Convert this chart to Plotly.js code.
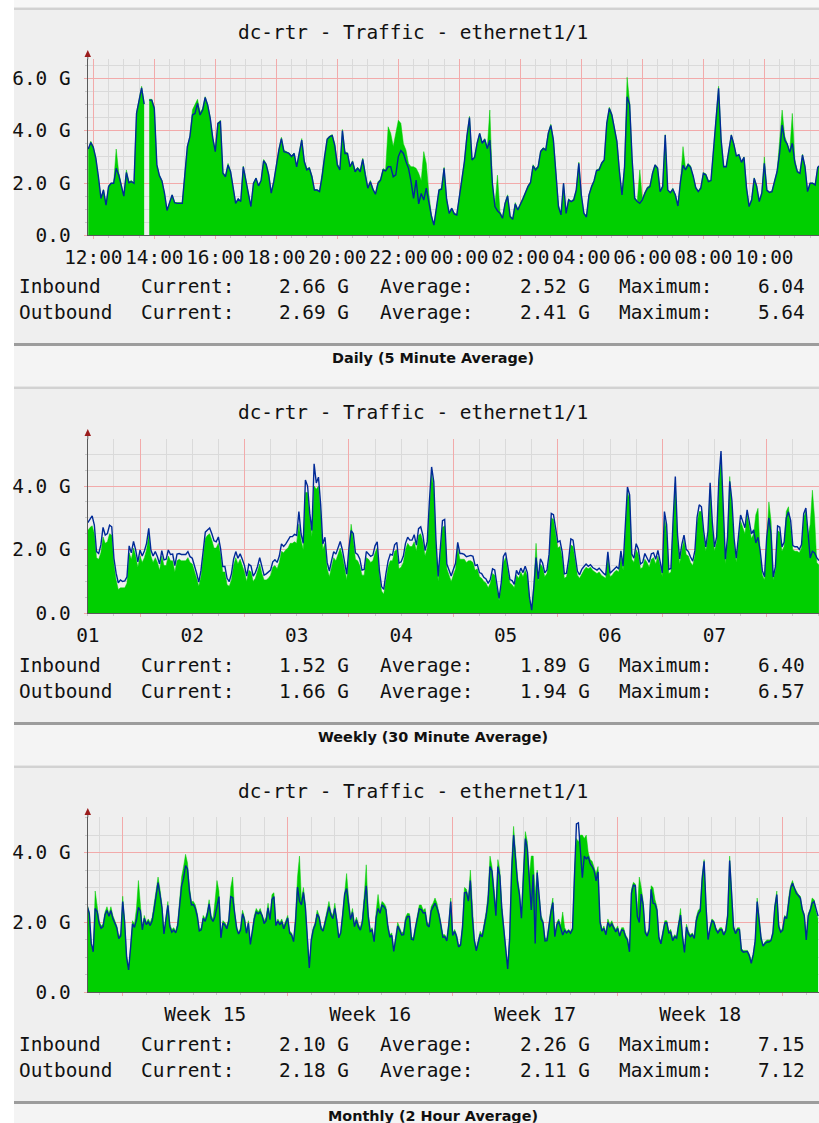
<!DOCTYPE html>
<html><head><meta charset="utf-8">
<script src="https://cdn.plot.ly/plotly-3.0.1.min.js"></script>
<style>html,body{margin:0;padding:0;background:#fff;overflow:hidden}#chart{width:819px;height:1123px}</style>
</head><body><div id="chart"></div>
<script>
// ---------------- DATA ----------------
const chartTitle = "dc-rtr - Traffic - ethernet1/1";
const panelCaptions = ["Daily (5 Minute Average)", "Weekly (30 Minute Average)", "Monthly (2 Hour Average)"];

// Daily: 5-minute samples starting 2018-05-07 11:50 (G bits/s); null = unknown sample
const dailyStart = "2018-05-07 11:50:00";
const dailyStepMin = 5;
const dailyIn = [3.25,3.6,3.4,2.95,2.2,1.4,1.75,1.2,1.9,2.0,
2.0,3.3,2.4,1.9,1.5,2.5,2.05,2.1,2.0,4.7,
5.2,5.7,5.05,null,5.2,5.2,4.9,2.7,2.3,2.1,
1.6,0.95,1.25,1.55,1.25,1.25,1.25,1.25,2.35,3.4,
3.8,4.8,5.0,5.2,4.7,4.85,5.3,5.0,4.5,3.75,
3.25,4.3,4.4,2.4,2.3,2.75,2.45,1.9,1.25,1.4,
1.3,2.65,2.15,1.65,1.1,2.0,2.2,1.9,2.1,2.9,
2.75,2.35,1.65,2.1,2.75,3.3,3.75,3.25,3.2,3.15,
3.05,3.15,2.65,3.15,3.7,2.85,2.55,2.6,2.3,1.75,
1.75,1.7,2.3,3.05,3.7,3.8,3.85,3.5,2.75,2.55,
4.05,3.2,3.15,2.65,2.85,2.5,2.6,2.5,2.95,2.35,
1.85,2.1,1.8,1.6,2.05,2.15,2.55,2.5,4.15,3.9,
3.4,3.9,4.4,4.28,3.5,3.26,2.75,2.62,2.62,2.56,
2.37,2.1,3.2,2.75,1.6,0.8,0.4,1.05,1.75,1.8,
2.6,1.4,0.85,1.05,0.85,0.8,1.5,2.35,2.85,3.85,
4.55,2.9,3.0,3.55,3.9,3.55,3.7,3.35,4.79,2.0,
1.15,2.3,0.9,0.7,1.25,1.55,0.75,0.65,1.25,1.0,
1.2,1.4,1.65,1.9,2.05,2.7,2.55,2.65,3.25,3.35,
3.3,3.95,4.25,3.7,2.4,1.15,0.8,2.0,0.85,1.4,
1.3,1.4,1.75,2.8,1.55,0.85,0.75,1.55,1.9,2.1,
2.5,2.55,2.8,2.9,4.3,4.9,4.65,4.1,3.6,2.45,
1.55,2.65,6.04,5.1,2.9,1.45,1.3,2.5,1.4,1.65,
1.85,1.9,2.4,2.7,2.6,1.7,1.9,3.85,1.75,1.65,
1.8,1.55,1.15,2.1,3.39,2.55,2.75,2.65,2.3,1.85,
1.7,1.85,2.4,2.35,2.1,2.1,3.25,4.5,5.7,3.7,
2.65,2.65,3.25,3.85,3.5,3.05,3.1,2.8,3.0,1.85,
1.15,1.4,2.2,1.9,1.3,1.65,3.0,1.75,1.65,1.7,
2.1,2.45,3.6,4.79,3.8,3.5,3.2,4.66,2.9,2.45,
2.4,3.1,2.65,1.7,2.0,2.0,1.95,2.6,2.66];
const dailyOut = [3.3,3.55,3.36,2.94,2.24,1.41,1.73,1.15,1.86,1.99,
1.99,2.56,2.31,1.86,1.5,2.4,2.01,2.05,1.99,4.66,
5.17,5.64,5.02,null,5.17,5.17,4.85,2.69,2.28,2.08,
1.61,0.95,1.25,1.54,1.25,1.22,1.22,1.22,2.31,3.39,
3.77,4.6,4.66,5.04,4.6,4.79,5.27,4.98,4.47,3.71,
3.2,4.28,4.34,2.37,2.24,2.69,2.43,1.89,1.22,1.39,
1.29,2.62,2.11,1.61,1.1,1.98,2.18,1.89,2.09,2.85,
2.71,2.31,1.61,2.05,2.73,3.26,3.7,3.2,3.17,3.13,
3.01,3.13,2.62,3.13,3.64,2.82,2.5,2.56,2.24,1.73,
1.73,1.67,2.24,3.01,3.67,3.77,3.81,3.43,2.69,2.5,
4.0,3.13,3.13,2.62,2.82,2.43,2.56,2.43,2.9,2.31,
1.8,2.05,1.76,1.57,1.99,2.11,2.5,2.46,2.62,2.62,
2.24,2.31,3.01,3.24,3.13,2.82,2.56,2.05,1.41,2.11,
1.2,1.6,1.35,1.8,1.29,0.74,0.39,1.03,1.73,1.76,
2.56,1.38,0.84,1.03,0.82,0.78,1.48,2.31,2.82,3.8,
4.5,2.88,2.98,3.52,3.9,3.52,3.67,3.32,3.64,1.99,
1.1,0.94,0.84,0.65,1.22,1.5,0.71,0.61,1.2,0.97,
1.16,1.39,1.63,1.86,2.01,2.66,2.5,2.62,3.2,3.32,
3.26,3.9,4.2,3.64,2.37,1.1,0.78,1.99,0.84,1.35,
1.29,1.35,1.73,2.75,1.54,0.84,0.7,1.54,1.85,2.08,
2.48,2.5,2.75,2.88,4.28,4.85,4.6,4.08,3.58,2.43,
1.54,2.62,5.3,5.0,2.88,1.41,1.29,1.22,1.35,1.61,
1.8,1.86,2.37,2.69,2.56,1.67,1.86,3.83,1.73,1.63,
1.76,1.54,1.12,2.05,2.68,2.5,2.7,2.6,2.27,1.82,
1.67,1.8,2.37,2.31,2.05,2.09,3.2,4.47,5.62,3.64,
2.62,2.62,3.2,3.83,3.48,3.03,3.08,2.79,2.98,1.8,
1.1,1.35,2.18,1.86,1.29,1.61,2.75,1.72,1.64,1.67,
2.05,2.43,3.13,4.22,3.64,3.49,3.17,3.52,2.78,2.43,
2.37,3.07,2.62,1.67,1.99,1.99,1.92,2.6,2.69];

// Weekly: 30-minute samples starting 2018-05-01 12:00
const weeklyStart = "2018-05-01 12:00:00";
const weeklyStepMin = 30;
const weeklyIn = [2.6,2.7,2.75,2.5,1.75,1.7,1.9,2.4,2.2,2.25,
2.5,2.45,1.55,1.05,0.75,0.8,0.8,0.8,0.95,1.9,
1.7,2.05,1.8,1.45,1.8,1.6,1.75,2.0,2.45,1.8,
1.6,1.75,1.6,1.35,1.8,1.5,1.5,1.8,1.65,1.65,
1.3,1.65,1.7,1.65,1.65,1.65,1.75,1.6,1.55,1.35,
1.1,0.85,1.15,1.75,2.35,2.45,2.5,2.3,2.05,2.05,
2.2,1.85,1.3,1.3,0.9,0.85,1.05,1.5,1.75,1.55,
1.7,1.5,1.3,1.0,1.35,1.3,1.0,1.1,1.3,1.55,
1.25,1.05,1.05,1.1,1.2,1.45,1.5,1.4,1.6,1.95,
1.9,2.0,2.05,2.2,2.2,2.25,2.2,2.8,2.3,2.0,
3.8,3.8,3.0,2.4,4.0,3.9,4.0,3.2,2.0,2.2,
1.4,1.15,1.45,1.75,1.65,1.85,2.05,1.8,1.35,1.05,
1.85,2.8,2.3,1.7,1.65,1.5,1.2,1.2,1.75,1.7,
1.6,1.65,1.9,2.05,1.2,0.7,0.6,1.05,1.45,1.65,
1.65,1.95,2.0,1.4,1.45,1.6,2.0,2.2,2.1,2.1,
2.25,1.95,2.45,2.5,2.25,1.8,2.05,3.3,4.4,3.9,
2.1,1.0,1.85,2.7,2.75,1.4,1.2,1.0,1.2,1.4,
2.05,1.7,1.7,1.7,1.6,1.65,1.65,1.6,1.35,1.4,
1.15,1.1,1.0,0.95,0.8,0.95,1.25,1.2,0.8,0.4,
0.85,1.6,1.75,1.35,0.95,0.9,0.8,1.2,1.1,1.3,
1.15,1.35,1.15,0.45,0.1,0.9,2.2,1.0,1.55,1.45,
1.15,1.25,1.7,3.0,2.95,2.5,2.05,2.1,1.75,1.1,
1.15,1.55,2.15,2.1,1.65,1.2,1.1,1.25,1.35,1.45,
1.4,1.45,1.35,1.3,1.25,1.3,1.2,1.15,1.1,1.8,
1.15,1.2,1.3,1.35,1.3,1.8,1.35,2.5,3.8,3.6,
1.7,1.6,2.0,1.85,1.4,1.45,1.7,1.6,1.45,1.7,
1.75,1.55,1.8,1.5,1.15,3.0,2.6,1.25,1.3,2.8,
4.1,2.3,1.55,2.0,2.3,1.85,1.8,1.6,1.5,1.8,
2.85,3.2,3.2,2.45,1.95,2.4,3.9,2.7,1.95,2.25,
4.0,4.9,2.9,1.55,2.25,4.3,3.4,2.2,1.6,2.3,
2.9,2.7,2.5,3.1,2.65,2.35,2.5,3.1,3.3,1.85,
1.2,1.05,2.25,3.5,2.9,1.05,1.35,2.6,2.55,1.95,
2.1,3.2,3.35,2.75,2.0,1.95,1.95,1.9,2.05,3.0,
3.2,2.4,2.8,3.87,3.0,1.6,1.52];
const weeklyOut = [2.85,2.95,3.06,2.77,1.94,1.88,2.15,2.7,2.46,2.51,
2.77,2.72,1.73,1.26,0.96,1.05,1.0,1.02,1.15,2.12,
1.9,2.26,1.99,1.62,1.99,1.8,1.96,2.2,2.67,1.99,
1.8,1.94,1.78,1.55,1.97,1.68,1.7,1.99,1.85,1.86,
1.5,1.86,1.88,1.85,1.86,1.85,1.94,1.78,1.73,1.52,
1.26,0.98,1.34,1.94,2.55,2.62,2.68,2.5,2.28,2.25,
2.4,2.04,1.47,1.47,1.1,1.0,1.24,1.7,1.94,1.73,
1.87,1.7,1.5,1.17,1.54,1.49,1.17,1.28,1.47,1.75,
1.44,1.2,1.24,1.31,1.36,1.62,1.68,1.6,1.8,2.18,
2.1,2.18,2.29,2.41,2.41,2.48,2.45,3.2,2.5,2.2,
4.19,4.0,3.14,2.6,4.7,4.1,4.28,3.43,2.18,2.39,
1.6,1.33,1.65,1.94,1.86,2.04,2.26,1.99,1.56,1.23,
2.05,2.6,2.51,1.9,1.85,1.71,1.36,1.38,1.94,1.88,
1.79,1.83,2.12,2.25,1.35,0.84,0.75,1.24,1.64,1.86,
1.83,2.15,2.23,1.58,1.62,1.79,2.2,2.39,2.3,2.3,
2.47,2.14,2.66,2.72,2.45,1.97,2.26,3.54,4.6,4.13,
2.3,1.16,2.07,2.91,2.95,1.55,1.36,1.17,1.38,1.57,
2.23,1.88,1.88,1.85,1.78,1.81,1.82,1.79,1.5,1.53,
1.28,1.25,1.13,1.08,0.94,1.07,1.4,1.36,0.91,0.47,
0.96,1.79,1.91,1.5,1.06,1.03,0.91,1.35,1.21,1.42,
1.28,1.48,1.28,0.49,0.1,0.85,1.75,1.08,1.71,1.58,
1.27,1.36,1.86,3.14,3.1,2.68,2.24,2.28,1.93,1.24,
1.26,1.7,2.34,2.3,1.83,1.33,1.21,1.38,1.47,1.55,
1.48,1.53,1.44,1.41,1.36,1.42,1.32,1.26,1.2,1.93,
1.26,1.32,1.39,1.46,1.39,1.96,1.48,2.68,3.97,3.72,
1.86,1.73,2.19,2.02,1.55,1.6,1.88,1.74,1.6,1.87,
1.9,1.7,1.98,1.63,1.27,3.2,2.79,1.38,1.41,2.95,
4.3,2.48,1.71,2.17,2.46,2.01,1.94,1.77,1.64,1.97,
3.02,3.41,3.35,2.61,2.09,2.58,4.1,2.87,2.09,2.4,
4.2,5.1,3.09,1.7,2.4,4.15,3.55,2.36,1.73,2.45,
3.09,2.89,2.69,3.25,2.8,2.5,2.62,2.21,2.39,1.96,
1.34,1.15,2.39,3.0,2.48,1.14,1.47,2.75,2.71,2.09,
2.23,3.0,3.19,2.92,2.13,2.09,2.09,2.01,2.16,3.13,
3.31,2.51,1.74,1.95,1.9,1.75,1.66];

// Monthly: 2-hour samples starting 2018-04-07 12:00
const monthlyStart = "2018-04-07 12:00:00";
const monthlyStepMin = 120;
const monthlyIn = [2.5,2.3,1.35,1.15,2.9,2.4,2.05,1.9,1.95,2.3,
2.45,2.25,2.45,2.2,2.05,1.9,1.6,1.7,2.75,2.05,
1.05,0.7,1.3,2.05,1.95,2.4,3.2,2.5,1.85,2.2,
2.0,2.1,2.0,2.15,2.5,2.95,3.3,2.95,2.5,1.7,
2.25,2.6,1.95,1.8,1.85,1.75,2.0,2.75,3.3,3.6,
3.95,3.7,3.0,2.6,2.6,2.5,2.25,1.8,1.85,2.2,
2.1,2.3,2.65,2.2,2.1,2.6,3.2,2.9,1.6,2.05,
2.0,1.9,2.1,3.0,3.3,2.3,1.9,1.7,1.85,2.35,
2.15,1.75,2.05,1.4,1.85,2.2,2.4,2.3,2.4,2.25,
2.05,2.15,2.55,2.15,2.8,2.85,1.95,2.1,2.0,2.1,
1.9,2.05,2.2,1.75,1.7,1.5,2.2,3.3,3.9,2.65,
3.0,2.5,1.5,0.75,1.55,1.85,2.0,2.35,2.2,1.9,
1.8,2.05,2.35,2.6,2.3,2.2,2.55,2.15,1.6,1.75,
2.3,3.0,3.4,2.7,2.15,2.4,1.95,2.15,1.95,1.85,
2.1,2.8,3.65,2.3,1.8,1.85,1.5,2.3,2.8,2.35,
2.6,2.55,2.45,1.95,1.65,1.7,1.2,1.6,2.0,1.85,
1.7,1.75,2.15,2.26,2.25,1.6,1.55,1.9,2.2,2.5,
2.5,2.35,2.4,2.0,1.95,2.45,2.55,2.7,2.55,2.3,
2.0,1.65,1.65,1.55,2.0,2.7,1.7,1.8,1.65,1.35,
1.4,1.95,3.0,2.95,2.7,3.5,2.3,1.55,1.25,1.5,
1.75,1.65,1.95,2.3,2.8,3.9,3.6,3.0,2.4,3.8,
3.5,2.5,1.9,1.35,0.7,1.7,3.7,4.75,4.0,3.3,
2.9,2.25,3.5,4.6,4.3,3.3,3.9,3.9,2.8,3.5,
2.8,2.2,2.05,1.55,1.55,2.05,2.4,2.7,1.65,2.0,
2.1,1.9,2.3,1.85,1.75,1.8,1.75,1.85,3.5,4.4,
4.3,4.5,4.5,4.4,4.5,4.0,3.8,3.75,3.6,3.4,
3.6,2.1,1.8,1.9,1.7,2.1,1.95,2.05,1.9,1.8,
1.9,1.65,1.85,1.85,1.65,1.55,1.2,2.95,3.15,3.1,
2.3,3.3,3.0,2.6,1.8,1.65,1.85,3.05,3.0,2.65,
2.45,1.6,1.45,1.75,2.05,2.05,1.75,1.8,1.55,1.65,
1.6,2.0,2.4,1.65,1.2,1.95,1.75,1.65,1.7,1.6,
2.15,2.35,2.4,3.35,3.8,2.5,1.55,1.9,2.1,2.05,
1.85,1.75,1.85,1.85,1.7,1.8,2.3,3.9,2.95,1.9,
1.75,1.85,1.85,1.25,1.2,1.2,1.2,1.1,0.9,1.1,
1.5,2.7,2.2,1.6,1.35,1.45,1.5,1.5,1.5,1.75,
2.5,2.9,1.95,1.75,1.85,2.2,2.15,2.7,3.05,3.2,
3.0,2.9,2.8,2.75,2.4,2.25,1.55,2.25,2.4,2.7,
2.65,2.3,2.10];
const monthlyOut = [2.45,2.26,1.4,1.16,2.4,2.31,1.98,1.83,1.88,2.22,
2.34,2.18,2.34,2.11,1.98,1.85,1.54,1.61,2.6,2.0,
1.0,0.64,1.26,1.96,1.86,2.07,2.43,2.33,1.79,2.12,
1.94,2.02,1.91,2.05,2.38,2.79,3.14,2.8,2.42,1.67,
2.17,2.49,1.88,1.72,1.78,1.7,1.91,2.59,3.05,3.26,
3.63,3.53,2.88,2.5,2.51,2.4,2.17,1.76,1.79,2.12,
2.03,2.22,2.53,2.12,2.03,2.17,2.51,2.74,1.56,1.98,
1.93,1.82,2.04,2.74,2.71,2.22,1.83,1.67,1.78,2.25,
2.08,1.69,1.98,1.37,1.79,2.11,2.3,2.25,2.3,2.19,
1.97,2.05,2.42,2.08,2.66,2.74,1.91,2.04,1.93,2.02,
1.82,2.0,2.13,1.69,1.64,1.45,2.03,3.01,2.61,2.5,
2.86,2.43,1.48,0.7,1.49,1.79,1.93,2.24,2.14,1.82,
1.75,1.97,2.22,2.45,2.21,2.11,2.4,2.06,1.56,1.7,
2.21,2.81,2.97,2.56,2.08,2.29,1.88,2.07,1.87,1.78,
2.0,2.6,3.05,2.18,1.74,1.78,1.45,2.14,2.4,2.26,
2.5,2.45,2.37,1.87,1.58,1.63,1.17,1.54,1.9,1.78,
1.64,1.65,2.06,2.17,2.17,1.52,1.5,1.83,2.13,2.39,
2.37,2.27,2.28,1.93,1.87,2.33,2.44,2.55,2.42,2.22,
1.91,1.58,1.59,1.47,1.92,2.6,1.63,1.74,1.59,1.3,
1.35,1.86,2.85,2.86,2.61,3.2,2.16,1.49,1.19,1.44,
1.66,1.59,1.88,2.18,2.6,3.6,3.47,2.86,2.19,3.6,
3.33,2.38,1.82,1.31,0.67,1.53,3.46,4.5,3.81,3.15,
2.79,2.12,3.31,4.4,4.1,3.16,2.36,3.37,1.4,3.43,
2.67,2.1,1.99,1.47,1.48,1.95,2.3,2.57,1.59,1.93,
2.03,1.83,1.64,1.77,1.7,1.76,1.69,1.8,3.41,4.82,
4.85,4.03,3.28,3.9,3.82,3.88,3.68,3.6,3.48,3.19,
3.45,2.01,1.75,1.83,1.65,2.0,1.88,1.96,1.84,1.73,
1.83,1.61,1.79,1.77,1.59,1.5,1.16,2.84,3.07,3.05,
2.17,2.0,2.81,2.48,1.72,1.61,1.79,2.95,2.55,2.53,
2.35,1.56,1.39,1.67,1.99,2.0,1.7,1.72,1.48,1.59,
1.55,1.92,2.21,1.59,1.14,1.87,1.67,1.59,1.65,1.54,
2.05,2.25,2.32,3.24,3.75,2.43,1.51,1.82,2.05,2.0,
1.8,1.7,1.79,1.79,1.64,1.76,2.19,3.77,2.87,1.84,
1.68,1.8,1.79,1.2,1.15,1.16,1.17,1.05,0.83,1.07,
1.47,2.6,2.15,1.54,1.32,1.4,1.44,1.44,1.48,1.69,
2.44,2.8,1.88,1.72,1.78,2.16,2.11,2.63,2.97,3.12,
2.94,2.83,2.77,2.69,2.36,2.19,1.5,2.19,2.34,2.55,
2.6,2.4,2.18];

// Legend statistics [current, average, maximum] per panel
const dailyStatsIn = ["2.66 G", "2.52 G", "6.04"];
const dailyStatsOut = ["2.69 G", "2.41 G", "5.64"];
const weeklyStatsIn = ["1.52 G", "1.89 G", "6.40"];
const weeklyStatsOut = ["1.66 G", "1.94 G", "6.57"];
const monthlyStatsIn = ["2.10 G", "2.26 G", "7.15"];
const monthlyStatsOut = ["2.18 G", "2.11 G", "7.12"];

// Axis tick labels
const dailyYTicks = [0, 2, 4, 6];
const dailyYLabels = ["0.0", "2.0 G", "4.0 G", "6.0 G"];
const otherYTicks = [0, 2, 4];
const otherYLabels = ["0.0", "2.0 G", "4.0 G"];

// ---------------- HELPERS ----------------
function timeAxis(start, stepMin, n) {
  const p = start.split(/[- :]/).map(Number);
  const t0 = Date.UTC(p[0], p[1] - 1, p[2], p[3], p[4], p[5] || 0);
  const out = [];
  for (let i = 0; i < n; i++) {
    out.push(new Date(t0 + i * stepMin * 60000).toISOString().slice(0, 19).replace('T', ' '));
  }
  return out;
}
// split a series into runs of known samples (unknown samples leave a gap, like RRDtool)
function segments(xs, ys) {
  const segs = []; let cur = null;
  ys.forEach((v, i) => {
    if (v === null) { cur = null; return; }
    if (!cur) { cur = {x: [], y: []}; segs.push(cur); }
    cur.x.push(xs[i]); cur.y.push(v);
  });
  return segs;
}
const W = 819, H = 1123;
const px = v => v / W;
const py = v => 1 - v / H;

const MONO = "DejaVu Sans Mono, monospace";
const FS = 19.4;
const GREEN = "#00CF00", BLUE = "#002A97";
const MAJOR = "#f2aaaa", MINOR = "#dadada", AXIS = "#5a5a5a";

const panels = [
  {x: timeAxis(dailyStart, dailyStepMin, dailyIn.length), inb: dailyIn, outb: dailyOut,
   statsIn: dailyStatsIn, statsOut: dailyStatsOut, off: 0, base: 235.3, top: 59.3, ymax: 6.73,
   yt: dailyYTicks, yl: dailyYLabels,
   xr: ["2018-05-07 11:48:33", "2018-05-08 11:47:31"], tick0: "2018-05-07 00:00:00", dtick: 7200000,
   fmt: "%H:%M", mode: "instant", minor: 1800000},
  {x: timeAxis(weeklyStart, weeklyStepMin, weeklyIn.length), inb: weeklyIn, outb: weeklyOut,
   statsIn: weeklyStatsIn, statsOut: weeklyStatsOut, off: 379, base: 613.3, top: 439.3, ymax: 5.47,
   yt: otherYTicks, yl: otherYLabels,
   xr: ["2018-05-01 11:55:41", "2018-05-08 12:01:00"], tick0: "2018-05-01 00:00:00", dtick: 86400000,
   fmt: "%d", mode: "period", minor: 21600000},
  {x: timeAxis(monthlyStart, monthlyStepMin, monthlyIn.length), inb: monthlyIn, outb: monthlyOut,
   statsIn: monthlyStatsIn, statsOut: monthlyStatsOut, off: 758, base: 992.3, top: 817.3, ymax: 5.01,
   yt: otherYTicks, yl: otherYLabels,
   xr: ["2018-04-07 12:10:00", "2018-05-08 12:58:00"], tick0: "2018-04-09 00:00:00", dtick: 604800000,
   fmt: "Week %V", mode: "period", minor: 86400000}
];

const traces = [];
const layout = {
  width: W, height: H, margin: {l: 0, r: 0, t: 0, b: 0},
  paper_bgcolor: "#ffffff", plot_bgcolor: "#ffffff", showlegend: false,
  shapes: [], annotations: []
};

// top strip
layout.shapes.push({type: "rect", xref: "paper", yref: "paper", x0: px(14), x1: 1, y0: py(0), y1: py(7.5),
  fillcolor: "#f7f7f7", line: {width: 0}, layer: "below"});

panels.forEach((p, i) => {
  const n = i + 1;
  const xa = n === 1 ? "x" : "x" + n, ya = n === 1 ? "y" : "y" + n;
  const xk = n === 1 ? "xaxis" : "xaxis" + n, yk = n === 1 ? "yaxis" : "yaxis" + n;
  const o = p.off;

  segments(p.x, p.inb).forEach(s => traces.push({type: "scatter", mode: "lines", x: s.x, y: s.y, xaxis: xa, yaxis: ya,
    fill: "tozeroy", fillcolor: GREEN, line: {color: GREEN, width: 0.5},
    name: "Inbound", hoverinfo: "skip"}));
  traces.push({type: "scatter", mode: "lines", x: p.x, y: p.outb, xaxis: xa, yaxis: ya,
    line: {color: BLUE, width: 1.4}, connectgaps: false, name: "Outbound", hoverinfo: "skip"});

  layout[xk] = {
    type: "date", domain: [px(87.5), 1], anchor: ya, range: p.xr,
    tickmode: "linear", tick0: p.tick0, dtick: p.dtick, tickformat: p.fmt, ticklabelmode: p.mode,
    tickangle: 0, ticks: "outside", ticklen: 3, tickcolor: MAJOR,
    showgrid: true, gridcolor: MAJOR, gridwidth: 1,
    minor: {tick0: p.tick0, dtick: p.minor, showgrid: true, gridcolor: MINOR, ticks: "outside", ticklen: 2, tickcolor: "#c8c8c8"},
    showline: true, linecolor: AXIS, linewidth: 1, zeroline: false,
    tickfont: {family: MONO, size: FS, color: "#111"}, ticklabelstandoff: 1, fixedrange: true
  };
  layout[yk] = {
    domain: [py(p.base), py(p.top)], anchor: xa, range: [0, p.ymax],
    tickmode: "array", tickvals: p.yt, ticktext: p.yl,
    ticks: "outside", ticklen: 3, tickcolor: MAJOR,
    showgrid: true, gridcolor: MAJOR, gridwidth: 1,
    minor: {tick0: 0, dtick: 0.5, showgrid: true, gridcolor: MINOR, ticks: "outside", ticklen: 2, tickcolor: "#c8c8c8"},
    showline: true, linecolor: AXIS, linewidth: 1, zeroline: false,
    tickfont: {family: MONO, size: FS, color: "#111"}, ticklabelstandoff: 9, fixedrange: true
  };

  // panel background and borders
  const rect = (y0, y1, c) => layout.shapes.push({type: "rect", xref: "paper", yref: "paper",
    x0: px(14), x1: 1, y0: py(y1), y1: py(y0), fillcolor: c, line: {width: 0}, layer: "below"});
  rect(7.5 + o, 10 + o, "#d2d2d2");
  rect(10 + o, 343 + o, "#efefef");
  rect(343 + o, 346 + o, "#9c9c9c");
  rect(346 + o, Math.min(386.5 + o, H), "#f4f4f4");

  // y-axis arrow
  layout.shapes.push({type: "line", xref: "paper", yref: "paper", x0: px(87.8), x1: px(87.8),
    y0: py(p.top), y1: py(56 + o), line: {color: AXIS, width: 1}});
  layout.shapes.push({type: "path", xref: "paper", yref: "paper",
    path: `M ${px(84.5)} ${py(57 + o)} L ${px(91)} ${py(57 + o)} L ${px(87.8)} ${py(50 + o)} Z`,
    fillcolor: "#9b1c1c", line: {width: 0}});

  // title
  layout.annotations.push({xref: "paper", yref: "paper", x: px(412.5), y: py(33 + o), xanchor: "center", yanchor: "middle",
    text: chartTitle, showarrow: false, font: {family: MONO, size: FS, color: "#111"}});
  // legend
  [["Inbound", p.statsIn, 286], ["Outbound", p.statsOut, 312]].forEach(([name, st, yy]) => {
    const y = py(yy + o);
    const add = (t, x, anc) => layout.annotations.push({xref: "paper", yref: "paper", x: px(x), y: y,
      xanchor: anc, yanchor: "middle", text: t, showarrow: false, font: {family: MONO, size: FS, color: "#111"}});
    add(name, 17, "left");
    add("Current:", 138.5, "left");
    add(st[0], 351, "right");
    add("Average:", 377.5, "left");
    add(st[1], 591.5, "right");
    add("Maximum:", 616.5, "left");
    add(st[2], 807, "right");
  });
  // caption
  layout.annotations.push({xref: "paper", yref: "paper", x: px(433), y: py(358 + o), xanchor: "center", yanchor: "middle",
    text: "<b>" + panelCaptions[i] + "</b>", showarrow: false, font: {family: "DejaVu Sans, sans-serif", size: 14.4, color: "#111"}});
});

Plotly.newPlot("chart", traces, layout, {staticPlot: true, displayModeBar: false});
</script></body></html>
